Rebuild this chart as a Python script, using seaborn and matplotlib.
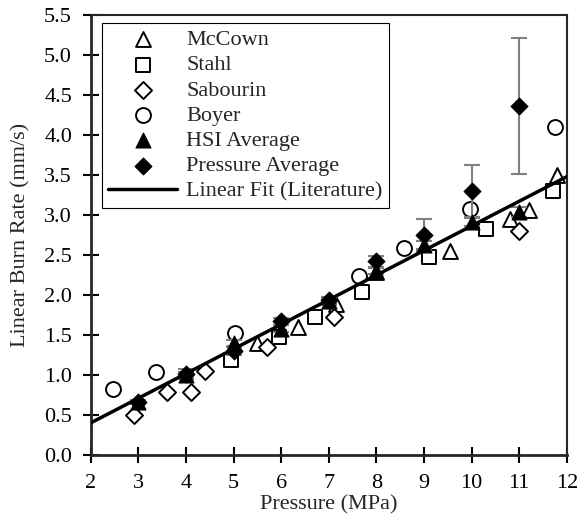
# burn rate vs pressure, literature data + averages
import matplotlib
matplotlib.use("Agg")
import matplotlib.pyplot as plt
import seaborn as sns
import pandas as pd

mccown_p = [5.5, 6.35, 7.15, 8.0, 9.55, 10.8, 11.2, 11.8]
mccown_r = [1.40, 1.60, 1.89, 2.29, 2.55, 2.95, 3.06, 3.50]

stahl_p = [4.95, 5.95, 6.7, 7.7, 9.1, 10.3, 11.7]
stahl_r = [1.18, 1.48, 1.73, 2.04, 2.47, 2.83, 3.30]

sabourin_p = [2.9, 3.6, 4.1, 4.4, 5.7, 7.1, 11.0]
sabourin_r = [0.50, 0.79, 0.78, 1.05, 1.35, 1.73, 2.80]

boyer_p = [2.47, 3.37, 5.03, 7.63, 8.58, 9.97, 11.75]
boyer_r = [0.82, 1.03, 1.53, 2.24, 2.59, 3.07, 4.10]

hsi_p = [3, 4, 5, 6, 7, 8, 9, 10, 11]
hsi_r = [0.66, 1.00, 1.40, 1.58, 1.92, 2.30, 2.63, 2.91, 3.04]
hsi_err = [0.03, 0.04, 0.04, 0.04, 0.04, 0.04, 0.05, 0.05, 0.06]

press_p = [3, 4, 5, 6, 7, 8, 9, 10, 11]
press_r = [0.66, 1.01, 1.30, 1.67, 1.94, 2.42, 2.75, 3.30, 4.36]
press_err = [0.03, 0.06, 0.05, 0.04, 0.04, 0.07, 0.20, 0.32, 0.85]

fit_p = [2, 12]
fit_r = [0.40, 3.48]

sns.set_theme(style="ticks")
plt.rcParams["font.family"] = ["Liberation Serif", "DejaVu Serif"]
FS = 16

fig = plt.figure(figsize=(5.82, 5.21), dpi=100)
ax = fig.add_axes([0.156, 0.127, 0.818, 0.844])

open_kw = dict(facecolor="white", edgecolor="black", linewidth=1.4, zorder=3)
sns.scatterplot(x=mccown_p, y=mccown_r, marker="^", s=115, label="McCown", ax=ax, **open_kw)
sns.scatterplot(x=stahl_p, y=stahl_r, marker="s", s=115, label="Stahl", ax=ax, **open_kw)
sns.scatterplot(x=sabourin_p, y=sabourin_r, marker="D", s=75, label="Sabourin", ax=ax, **open_kw)
sns.scatterplot(x=boyer_p, y=boyer_r, marker="o", s=115, label="Boyer", ax=ax, **open_kw)

ax.errorbar(hsi_p, hsi_r, yerr=hsi_err, fmt="none", ecolor="#808080",
            elinewidth=1.5, capsize=6, capthick=1.5, zorder=4)
ax.errorbar(press_p, press_r, yerr=press_err, fmt="none", ecolor="#808080",
            elinewidth=1.5, capsize=6, capthick=1.5, zorder=4)

sns.scatterplot(x=hsi_p, y=hsi_r, marker="^", s=115, color="black", edgecolor="black",
                label="HSI Average", ax=ax, zorder=5)
sns.scatterplot(x=press_p, y=press_r, marker="D", s=75, color="black", edgecolor="black",
                label="Pressure Average", ax=ax, zorder=5)

fit_df = pd.DataFrame({"p": fit_p, "r": fit_r})
sns.lineplot(data=fit_df, x="p", y="r", color="black", linewidth=2.5,
             label="Linear Fit (Literature)", ax=ax, zorder=4)

ax.set_xlim(2, 12)
ax.set_ylim(0, 5.5)
ax.set_xticks(range(2, 13))
ax.set_yticks([i * 0.5 for i in range(12)])
ax.set_yticklabels([f"{i * 0.5:.1f}" for i in range(12)])
ax.tick_params(direction="inout", length=11, width=1.5, labelsize=FS, colors="black", pad=8)
for side in ["left", "bottom"]:
    ax.spines[side].set_linewidth(2)
for side in ["top", "right"]:
    ax.spines[side].set_linewidth(1.5)
ax.set_xlabel("Pressure (MPa)", fontsize=FS, labelpad=2)
ax.set_ylabel("Linear Burn Rate (mm/s)", fontsize=FS, labelpad=10)

leg = ax.legend(loc="upper left", bbox_to_anchor=(0.023, 0.982), borderaxespad=0,
                fontsize=FS, frameon=True, fancybox=False, edgecolor="black",
                framealpha=1, handlelength=3.1, handletextpad=0.4,
                labelspacing=0.21, borderpad=0.3)
leg.get_frame().set_linewidth(0.8)

fig.savefig("out.png", dpi=100)
